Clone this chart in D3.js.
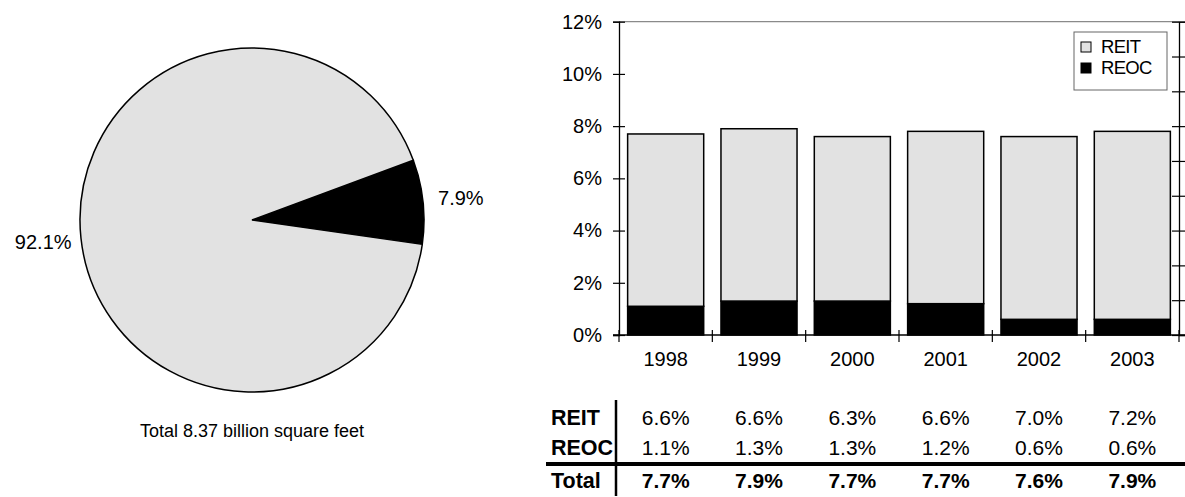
<!DOCTYPE html>
<html>
<head>
<meta charset="utf-8">
<script src="https://cdn.jsdelivr.net/npm/d3@7"></script>
<style>
  html, body { margin: 0; padding: 0; background: #fff; }
  svg { display: block; font-family: "Liberation Sans", Arial, sans-serif; }
</style>
</head>
<body>
<svg id="chart" width="1185" height="497"></svg>
<script>
// Share of total square footage (pie)
const pieLabels = ["REOC", "REIT"];
const pieValues = [7.9, 92.1];
const pieCaption = "Total 8.37 billion square feet";

// Yearly share by owner type (stacked bars + table)
const years = ["1998", "1999", "2000", "2001", "2002", "2003"];
const reit = [6.6, 6.6, 6.3, 6.6, 7.0, 7.2];
const reoc = [1.1, 1.3, 1.3, 1.2, 0.6, 0.6];
const total = [7.7, 7.9, 7.7, 7.7, 7.6, 7.9];
const yTicks = [0, 2, 4, 6, 8, 10, 12];
const rightTicks = [0, 1, 2, 3, 4, 5, 6, 7, 8, 9];

const LIGHT = "#e2e2e2";
const DARK = "#000000";

const svg = d3.select("#chart");

// ---------- Pie ----------
const cx = 252, cy = 220, r = 172;
const pieData = pieLabels.map((k, i) => ({ key: k, value: pieValues[i] }));
const half = (pieValues[0] / 100) * Math.PI; // half of the REOC sweep
const midAngle = 83.9 * Math.PI / 180;
const pie = d3.pie().value(d => d.value).sort(null)
  .startAngle(midAngle - half).endAngle(midAngle - half + 2 * Math.PI);
const arcs = pie(pieData);
const arc = d3.arc().innerRadius(0).outerRadius(r);
const labelArc = d3.arc().innerRadius(r + 38).outerRadius(r + 38);

const gPie = svg.append("g").attr("transform", `translate(${cx},${cy})`);
gPie.selectAll("path.slice").data(arcs).join("path")
  .attr("class", "slice")
  .attr("d", arc)
  .attr("fill", d => d.data.key === "REOC" ? DARK : LIGHT)
  .attr("stroke", "#000").attr("stroke-width", 1.5);

gPie.selectAll("text.plabel").data(arcs).join("text")
  .attr("class", "plabel")
  .attr("transform", d => `translate(${labelArc.centroid(d)})`)
  .attr("text-anchor", "middle")
  .attr("dy", "0.35em")
  .attr("font-size", 20)
  .attr("fill", "#000")
  .text(d => d.data.value.toFixed(1) + "%");

svg.append("text")
  .attr("x", cx).attr("y", 437)
  .attr("text-anchor", "middle")
  .attr("font-size", 18)
  .text(pieCaption);

// ---------- Stacked bars ----------
const plot = { left: 619, right: 1179, top: 21.7, bottom: 335 };
const x = d3.scaleBand().domain(years).range([plot.left, plot.right]).padding(0);
const xBar = d3.scaleBand().domain(years).range([plot.left, plot.right])
  .paddingInner(0.185).paddingOuter(0.0925);
const y = d3.scaleLinear().domain([0, 12]).range([plot.bottom, plot.top]);
const y2 = d3.scaleLinear().domain([0, 9]).range([plot.bottom, plot.top]);

// plot frame top
svg.append("line")
  .attr("x1", plot.left).attr("x2", plot.right)
  .attr("y1", y(12)).attr("y2", y(12))
  .attr("stroke", "#8a8a8a").attr("stroke-width", 1.2);

const rows = years.map((yr, i) => ({ year: yr, REOC: reoc[i], REIT: reit[i] }));
const stack = d3.stack().keys(["REOC", "REIT"]);
const series = stack(rows);

const gBars = svg.append("g");
gBars.selectAll("g.series").data(series).join("g")
  .attr("class", "series")
  .attr("fill", d => d.key === "REOC" ? DARK : LIGHT)
  .selectAll("rect").data(d => d).join("rect")
  .attr("x", d => xBar(d.data.year))
  .attr("width", xBar.bandwidth())
  .attr("y", d => y(d[1]))
  .attr("height", d => y(d[0]) - y(d[1]))
  .attr("stroke", "#000").attr("stroke-width", 1.5);

// left axis
const gY = svg.append("g")
  .attr("transform", `translate(${plot.left},0)`)
  .call(d3.axisLeft(y).tickValues(yTicks).tickFormat(d => d + "%").tickSize(6).tickPadding(11));
gY.select(".domain").attr("stroke", "#000").attr("stroke-width", 1.3);
gY.selectAll(".tick line").attr("x1", -6).attr("x2", 6).attr("stroke", "#000").attr("stroke-width", 1.2);
gY.selectAll(".tick text").attr("font-size", 20).attr("fill", "#000")
  .attr("font-family", "Liberation Sans, Arial, sans-serif");

// right axis (unlabelled secondary scale)
const gY2 = svg.append("g")
  .attr("transform", `translate(${plot.right},0)`)
  .call(d3.axisRight(y2).tickValues(rightTicks).tickFormat("").tickSize(6));
gY2.select(".domain").attr("stroke", "#000").attr("stroke-width", 1.3);
gY2.selectAll(".tick line").attr("x1", -7).attr("x2", 6).attr("stroke", "#000").attr("stroke-width", 1.2);

// bottom axis: baseline, boundary ticks, year labels
svg.append("line")
  .attr("x1", plot.left - 6).attr("x2", plot.right + 6)
  .attr("y1", y(0)).attr("y2", y(0))
  .attr("stroke", "#000").attr("stroke-width", 1.3);
const bounds = years.map(d => x(d)).concat([x(years[years.length - 1]) + x.step()]);
svg.selectAll("line.xtick").data(bounds).join("line")
  .attr("class", "xtick")
  .attr("x1", d => d).attr("x2", d => d)
  .attr("y1", y(0) - 5).attr("y2", y(0) + 7)
  .attr("stroke", "#000").attr("stroke-width", 1.2);
svg.selectAll("text.year").data(years).join("text")
  .attr("class", "year")
  .attr("x", d => x(d) + x.bandwidth() / 2)
  .attr("y", 366)
  .attr("text-anchor", "middle")
  .attr("font-size", 20)
  .text(d => d);

// legend
const lg = svg.append("g");
lg.append("rect")
  .attr("x", 1074).attr("y", 32).attr("width", 93).attr("height", 58)
  .attr("fill", "#fff").attr("stroke", "#666").attr("stroke-width", 1);
const legendItems = [{ key: "REIT", fill: LIGHT }, { key: "REOC", fill: DARK }];
legendItems.forEach((it, i) => {
  lg.append("rect")
    .attr("x", 1081).attr("y", 42 + i * 21).attr("width", 10).attr("height", 10)
    .attr("fill", it.fill).attr("stroke", "#000").attr("stroke-width", 1);
  lg.append("text")
    .attr("x", 1101).attr("y", 53 + i * 21)
    .attr("font-size", 18.5).attr("letter-spacing", -0.7)
    .text(it.key);
});

// ---------- Data table ----------
const tableRows = [
  { name: "REIT", vals: reit, bold: false, yb: 425 },
  { name: "REOC", vals: reoc, bold: false, yb: 455 },
  { name: "Total", vals: total, bold: true, yb: 488 }
];
const gT = svg.append("g");
tableRows.forEach(row => {
  gT.append("text")
    .attr("x", 551).attr("y", row.yb)
    .attr("font-size", 21.5).attr("font-weight", "bold")
    .text(row.name);
  gT.selectAll(null).data(row.vals).join("text")
    .attr("x", (d, i) => x(years[i]) + x.bandwidth() / 2)
    .attr("y", row.yb)
    .attr("text-anchor", "middle")
    .attr("font-size", 21)
    .attr("font-weight", row.bold ? "bold" : "normal")
    .text(d => d.toFixed(1) + "%");
});
gT.append("line")
  .attr("x1", 616).attr("x2", 616).attr("y1", 400).attr("y2", 496)
  .attr("stroke", "#000").attr("stroke-width", 2.5);
gT.append("line")
  .attr("x1", 546).attr("x2", 1185).attr("y1", 464).attr("y2", 464)
  .attr("stroke", "#000").attr("stroke-width", 4);
</script>
</body>
</html>
